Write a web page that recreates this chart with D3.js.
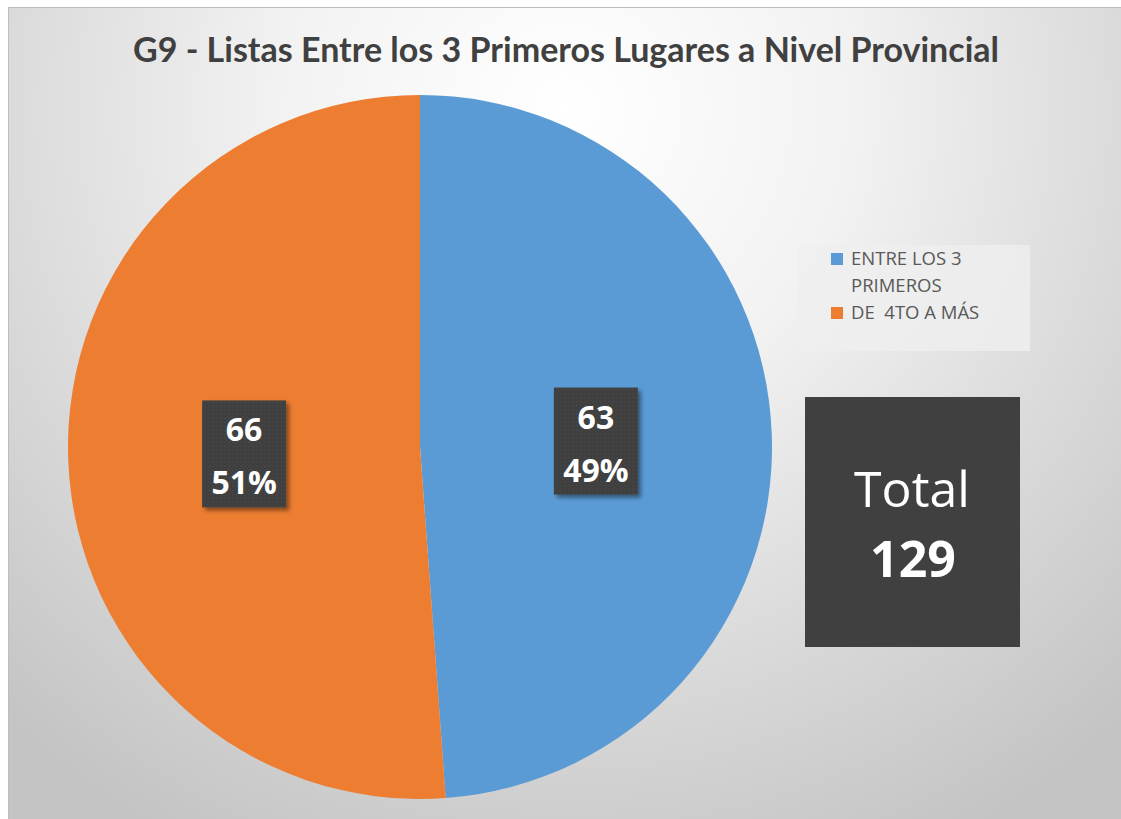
<!DOCTYPE html>
<html>
<head>
<meta charset="utf-8">
<script src="https://cdn.jsdelivr.net/npm/d3@7"></script>
<style>
  html, body { margin: 0; padding: 0; background: #ffffff; }
  svg { display: block; }
</style>
</head>
<body>
<svg id="chart" width="1121" height="819"></svg>
<script>
// ---- data ----
const titleText = "G9 - Listas Entre los 3 Primeros Lugares a Nivel Provincial";
const categories = ["ENTRE LOS 3 PRIMEROS", "DE  4TO A MÁS"];
const legendLines = [["ENTRE LOS 3", "PRIMEROS"], ["DE  4TO A MÁS"]];
const values = [63, 66];
const colors = ["#5b9bd5", "#ed7d31"];
const totalLabel = "Total";

// ---- layout ----
const W = 1121, H = 819;
const svg = d3.select("#chart");
const defs = svg.append("defs");

const bg = defs.append("radialGradient").attr("id", "bg")
  .attr("gradientUnits", "userSpaceOnUse")
  .attr("cx", 565).attr("cy", 110).attr("r", 820);
bg.append("stop").attr("offset", "0").attr("stop-color", "#ffffff");
bg.append("stop").attr("offset", "0.35").attr("stop-color", "#f2f2f2");
bg.append("stop").attr("offset", "1").attr("stop-color", "#c4c4c4");

const pat = defs.append("pattern").attr("id", "dots")
  .attr("patternUnits", "userSpaceOnUse").attr("width", 4).attr("height", 4);
pat.append("rect").attr("width", 4).attr("height", 4).attr("fill", "#3d3d3d");
pat.append("rect").attr("x", 0).attr("y", 0).attr("width", 2).attr("height", 2).attr("fill", "#474747");
pat.append("rect").attr("x", 2).attr("y", 2).attr("width", 2).attr("height", 2).attr("fill", "#434343");

const sh = defs.append("filter").attr("id", "shadow")
  .attr("x", "-20%").attr("y", "-20%").attr("width", "140%").attr("height", "140%");
sh.append("feDropShadow").attr("dx", 3).attr("dy", 3).attr("stdDeviation", 2)
  .attr("flood-color", "#000").attr("flood-opacity", 0.45);

svg.append("rect").attr("x", 8.5).attr("y", 7.5).attr("width", W).attr("height", H)
  .attr("fill", "url(#bg)").attr("stroke", "#bdbdbd").attr("stroke-width", 1);

// title
svg.append("text").attr("x", 566).attr("y", 62)
  .attr("text-anchor", "middle")
  .attr("font-family", "Lato, 'Open Sans', sans-serif")
  .attr("font-weight", "bold").attr("font-size", 35)
  .attr("fill", "#404040")
  .attr("textLength", 866).attr("lengthAdjust", "spacingAndGlyphs")
  .text(titleText);

// pie
const cx = 420, cy = 447, R = 352;
const total = d3.sum(values);
const pie = d3.pie().sort(null).value(d => d);
const arcs = pie(values);
const arc = d3.arc().innerRadius(0).outerRadius(R);

const g = svg.append("g").attr("transform", `translate(${cx},${cy})`);
g.selectAll("path.slice").data(arcs).join("path")
  .attr("class", "slice")
  .attr("d", arc)
  .attr("fill", (d, i) => colors[i]);

// data labels
const lblArc = d3.arc().innerRadius(R * 0.5).outerRadius(R * 0.5);
const lbl = g.selectAll("g.lbl").data(arcs).join("g")
  .attr("class", "lbl")
  .attr("transform", d => {
    const c = lblArc.centroid(d);
    return `translate(${c[0]},${c[1]})`;
  });
lbl.append("rect")
  .attr("x", -42).attr("y", -53).attr("width", 84).attr("height", 107)
  .attr("fill", "url(#dots)").attr("filter", "url(#shadow)");
lbl.append("text")
  .attr("text-anchor", "middle").attr("y", -12)
  .attr("font-family", "'Open Sans', sans-serif").attr("font-weight", "bold")
  .attr("font-size", 32).attr("fill", "#ffffff")
  .text(d => d.data);
lbl.append("text")
  .attr("text-anchor", "middle").attr("y", 41)
  .attr("font-family", "'Open Sans', sans-serif").attr("font-weight", "bold")
  .attr("font-size", 32).attr("fill", "#ffffff")
  .text(d => Math.round(d.data / total * 100) + "%");

// legend
const lg = svg.append("g");
lg.append("rect").attr("x", 798).attr("y", 245).attr("width", 232).attr("height", 106)
  .attr("fill", "#efefef").attr("opacity", 0.8);
const itemY = [265, 319];
legendLines.forEach((lines, i) => {
  lg.append("rect").attr("x", 831).attr("y", itemY[i] - 12).attr("width", 12).attr("height", 12)
    .attr("fill", colors[i]);
  lines.forEach((t, j) => {
    lg.append("text").attr("x", 851).attr("y", itemY[i] + j * 27)
      .attr("font-family", "'Open Sans', sans-serif").attr("font-size", 18.5)
      .attr("fill", "#595959").attr("xml:space", "preserve")
      .style("white-space", "pre")
      .text(t);
  });
});

// total box
const tb = svg.append("g");
tb.append("rect").attr("x", 805).attr("y", 397).attr("width", 215).attr("height", 250)
  .attr("fill", "#404040");
tb.append("text").attr("x", 912).attr("y", 507).attr("text-anchor", "middle")
  .attr("font-family", "'Open Sans', sans-serif").attr("font-size", 50)
  .attr("fill", "#ffffff").text(totalLabel);
tb.append("text").attr("x", 913).attr("y", 577).attr("text-anchor", "middle")
  .attr("font-family", "'Open Sans', sans-serif").attr("font-weight", "bold").attr("font-size", 50)
  .attr("fill", "#ffffff").text(total);
</script>
</body>
</html>
